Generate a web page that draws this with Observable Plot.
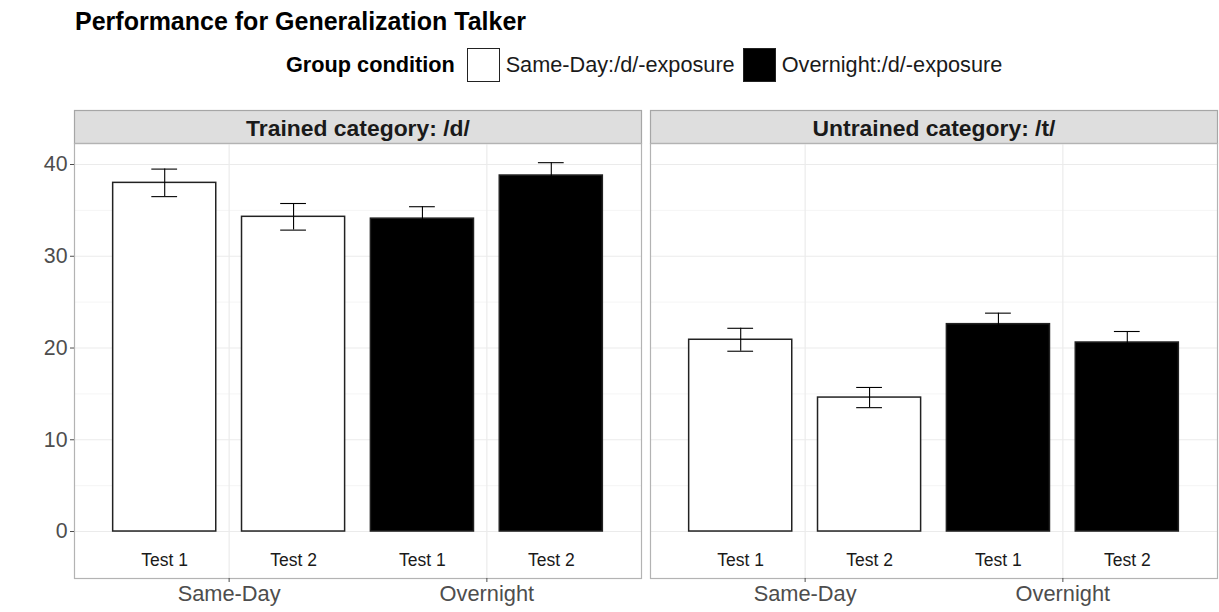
<!DOCTYPE html>
<html>
<head>
<meta charset="utf-8">
<script src="https://cdn.jsdelivr.net/npm/d3@7"></script>
<script src="https://cdn.jsdelivr.net/npm/@observablehq/plot@0.6"></script>
<style>
  html, body { margin: 0; padding: 0; background: #fff; }
  #wrap { position: relative; width: 1219px; height: 612px; font-family: "Liberation Sans", Arial, sans-serif; overflow: hidden; }
  #title { position: absolute; left: 75px; top: 7px; font-size: 25px; font-weight: bold; color: #000; white-space: nowrap; }
  #legend { position: absolute; left: 286px; top: 48px; height: 34px; display: flex; align-items: center; font-size: 21.7px; color: #1a1a1a; white-space: nowrap; }
  #legend .ttl { font-weight: bold; color: #000; margin-right: 12px; }
  #legend .sw { width: 33px; height: 34px; box-sizing: border-box; border: 1.5px solid #222; margin-right: 6px; }
  #legend .item { display: flex; align-items: center; margin-right: 8px; }
  #ytitle { position: absolute; left: 23px; top: 360px; transform: translate(-50%, -50%) rotate(-90deg); font-size: 21.7px; color: #1a1a1a; white-space: nowrap; }
  #chart { position: absolute; left: 0; top: 105px; }
</style>
</head>
<body>
<div id="wrap">
  <div id="title"></div>
  <div id="legend"></div>
  <div id="ytitle"></div>
  <div id="chart"></div>
</div>
<script>
// ---- data ----
const panels = ["Trained category: /d/", "Untrained category: /t/"];
const groups = ["Same-Day", "Overnight"];
const tests = ["Test 1", "Test 2"];
const legendLabels = ["Same-Day:/d/-exposure", "Overnight:/d/-exposure"];
const groupFill = ["white", "black"];
// means per panel, order: Same-Day Test1, Same-Day Test2, Overnight Test1, Overnight Test2
const meanTrained = [38.0, 34.3, 34.1, 38.8];
const meanUntrained = [20.9, 14.6, 22.6, 20.6];
const seTrained = [1.5, 1.45, 1.3, 1.4];
const seUntrained = [1.25, 1.1, 1.2, 1.2];
const yTicks = [0, 10, 20, 30, 40];
const yMinor = [5, 15, 25, 35];
const titleText = "Performance for Generalization Talker";
const legendTitle = "Group condition";
const yLabel = "Percent /d/ response";

// ---- build rows ----
const means = [meanTrained, meanUntrained];
const ses = [seTrained, seUntrained];
const rows = [];
panels.forEach((p, pi) => {
  groups.forEach((g, gi) => {
    tests.forEach((t, ti) => {
      const k = gi * 2 + ti;
      rows.push({
        panel: p, group: g, test: t,
        pos: gi + 1 + (ti === 0 ? -0.25 : 0.25), // dodge within group
        mean: means[pi][k], se: ses[pi][k],
        fill: groupFill[gi]
      });
    });
  });
});

// ---- header ----
document.getElementById("title").textContent = titleText;
document.getElementById("ytitle").textContent = yLabel;
const leg = document.getElementById("legend");
const lt = document.createElement("span"); lt.className = "ttl"; lt.textContent = legendTitle; leg.appendChild(lt);
legendLabels.forEach((l, i) => {
  const it = document.createElement("span"); it.className = "item";
  const sw = document.createElement("span"); sw.className = "sw"; sw.style.background = groupFill[i];
  const tx = document.createElement("span"); tx.textContent = l;
  it.appendChild(sw); it.appendChild(tx); leg.appendChild(it);
});

// ---- chart ----
const W = 1219, H = 507, mt = 38, mb = 34, ml = 74, mr = 2;
const panelH = H - mt - mb;
const stripH = 33;
const font = "Liberation Sans, Arial, sans-serif";

const chart = Plot.plot({
  width: W, height: H,
  marginTop: mt, marginBottom: mb, marginLeft: ml, marginRight: mr,
  style: { fontFamily: font, background: "#fff", overflow: "visible" },
  fx: { domain: panels, paddingInner: 0.0157, paddingOuter: 0, label: null },
  x: { domain: [0.4, 2.6], label: null },
  y: { domain: [-5.12, 42.29], label: null },
  marks: [
    // strip backgrounds
    Plot.frame({ fill: "#dedede", stroke: "#a6a6a6", strokeWidth: 1.2, insetTop: -stripH, insetBottom: panelH }),
    // grid
    Plot.gridY(yMinor, { stroke: "#f2f2f2", strokeOpacity: 1, strokeWidth: 0.8 }),
    Plot.gridY(yTicks, { stroke: "#ebebeb", strokeOpacity: 1, strokeWidth: 1.2 }),
    Plot.gridX([1, 2], { stroke: "#ebebeb", strokeOpacity: 1, strokeWidth: 1.2 }),
    // bars
    Plot.rect(rows, {
      fx: "panel",
      x1: d => d.pos - 0.2, x2: d => d.pos + 0.2,
      y1: 0, y2: "mean",
      fill: d => d.fill, stroke: "#222", strokeWidth: 1.5
    }),
    // error bars
    Plot.ruleX(rows, { fx: "panel", x: "pos", y1: d => d.mean - d.se, y2: d => d.mean + d.se, stroke: "#000", strokeWidth: 1.1 }),
    Plot.ruleY(rows, { fx: "panel", y: d => d.mean + d.se, x1: d => d.pos - 0.05, x2: d => d.pos + 0.05, stroke: "#000", strokeWidth: 1.1 }),
    Plot.ruleY(rows, { fx: "panel", y: d => d.mean - d.se, x1: d => d.pos - 0.05, x2: d => d.pos + 0.05, stroke: "#000", strokeWidth: 1.1 }),
    // test labels
    Plot.text(rows, { fx: "panel", x: "pos", y: -3.2, text: "test", fontSize: 17.5, fill: "#1a1a1a" }),
    // panel border
    Plot.frame({ stroke: "#b3b3b3", strokeWidth: 1.2 }),
    // axes
    Plot.axisY({ ticks: yTicks, tickSize: 4, tickPadding: 3, fontSize: 21.3, color: "#4d4d4d", stroke: "#4d4d4d", label: null }),
    Plot.axisX({ ticks: [1, 2], tickFormat: v => groups[v - 1], tickSize: 4, tickPadding: 3, fontSize: 21.8, color: "#4d4d4d", label: null }),
    Plot.axisFx({ anchor: "top", tickSize: 0, tickPadding: 7.5, fontSize: 22.9, fontWeight: "bold", color: "#1a1a1a", label: null })
  ]
});
document.getElementById("chart").appendChild(chart);
</script>
</body>
</html>
